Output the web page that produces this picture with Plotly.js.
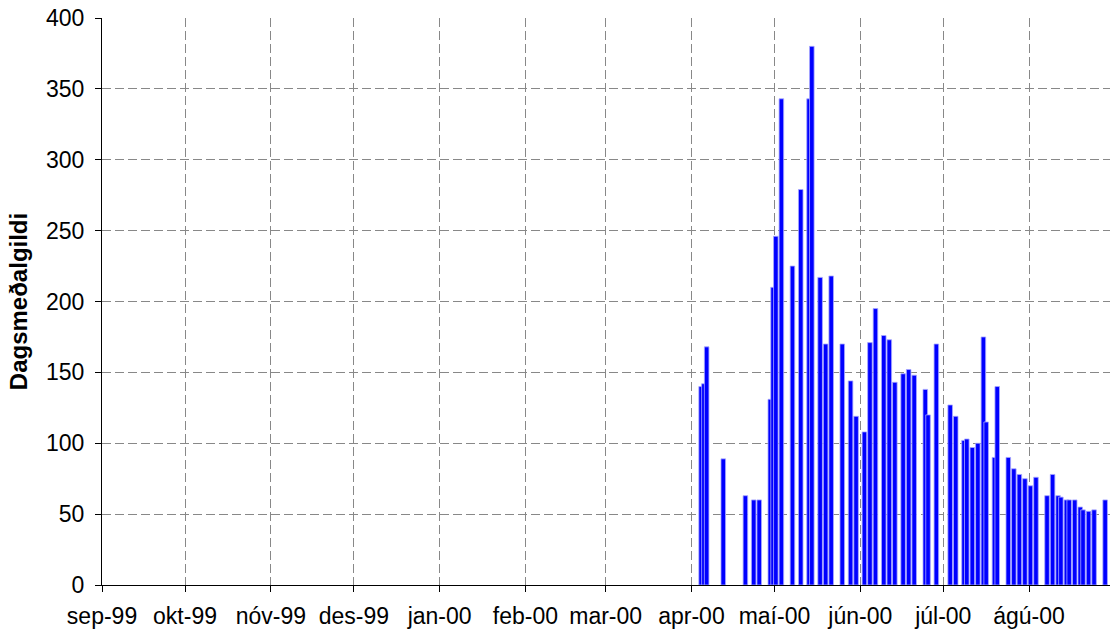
<!DOCTYPE html>
<html>
<head>
<meta charset="utf-8">
<script src="https://cdn.plot.ly/plotly-3.0.1.min.js"></script>
<style>
  html, body { margin: 0; padding: 0; background: #ffffff; }
  #chart { width: 1110px; height: 639px; }
</style>
</head>
<body>
<div id="chart"></div>
<script>
// ---- data ----
const dates = [
  '2000-04-04','2000-04-05','2000-04-06','2000-04-12','2000-04-20','2000-04-23','2000-04-25',
  '2000-04-29','2000-04-30','2000-05-01','2000-05-03','2000-05-07','2000-05-10','2000-05-13',
  '2000-05-14','2000-05-17','2000-05-19','2000-05-21','2000-05-25','2000-05-28','2000-05-30',
  '2000-06-02','2000-06-04','2000-06-06','2000-06-09','2000-06-11','2000-06-13','2000-06-16',
  '2000-06-18','2000-06-20','2000-06-24','2000-06-25','2000-06-28','2000-07-03','2000-07-05',
  '2000-07-08','2000-07-09','2000-07-11','2000-07-13','2000-07-15','2000-07-16','2000-07-19',
  '2000-07-20','2000-07-24','2000-07-26','2000-07-28','2000-07-30','2000-08-01','2000-08-03',
  '2000-08-07','2000-08-09','2000-08-11','2000-08-12','2000-08-14','2000-08-15','2000-08-17',
  '2000-08-19','2000-08-20','2000-08-22','2000-08-24','2000-08-28'
];
const values = [
  140, 142, 168, 89, 63, 60, 60,
  131, 210, 246, 343, 225, 279, 343,
  380, 217, 170, 218, 170, 144, 119,
  108, 171, 195, 176, 173, 143, 149,
  152, 148, 138, 120, 170, 127, 119,
  102, 103, 97, 100, 175, 115, 90,
  140, 90, 82, 78, 75, 70, 76,
  63, 78, 63, 62, 60, 60, 60,
  55, 53, 52, 53, 60
];
const monthStarts = [
  '1999-09-01','1999-10-01','1999-11-01','1999-12-01','2000-01-01','2000-02-01',
  '2000-03-01','2000-04-01','2000-05-01','2000-06-01','2000-07-01','2000-08-01'
];
const monthLabels = [
  'sep-99','okt-99','nóv-99','des-99','jan-00','feb-00',
  'mar-00','apr-00','maí-00','jún-00','júl-00','ágú-00'
];
const yTitle = 'Dagsmeðalgildi';

// ---- chart ----
const DAY = 86400000;
const fontFamily = '"Liberation Sans", Arial, Helvetica, sans-serif';

const trace = {
  type: 'bar',
  x: dates,
  y: values,
  xperiod: DAY,
  xperiodalignment: 'middle',
  width: 1.65 * DAY,
  marker: {
    color: '#0000ff',
    line: { color: '#a8a8ff', width: 0.8 }
  },
  hoverinfo: 'x+y'
};

const layout = {
  width: 1110,
  height: 639,
  margin: { l: 102, r: 0, t: 18, b: 54, pad: 0 },
  paper_bgcolor: '#ffffff',
  plot_bgcolor: '#ffffff',
  showlegend: false,
  bargap: 0,
  font: { family: fontFamily, color: '#000000', size: 23 },
  xaxis: {
    type: 'date',
    range: ['1999-09-01', '2000-08-30 06:00'],
    tickmode: 'array',
    tickvals: monthStarts,
    ticktext: monthLabels,
    ticks: 'outside',
    ticklen: 6,
    tickwidth: 1,
    tickcolor: '#000000',
    ticklabelstandoff: 4,
    tickfont: { family: fontFamily, size: 23, color: '#000000' },
    showline: true,
    linecolor: '#000000',
    linewidth: 1,
    showgrid: true,
    gridcolor: '#888888',
    gridwidth: 1,
    griddash: '9px,4px',
    zeroline: false,
    fixedrange: true
  },
  yaxis: {
    range: [0, 400],
    tick0: 0,
    dtick: 50,
    ticks: 'outside',
    ticklen: 6,
    tickwidth: 1,
    tickcolor: '#000000',
    ticklabelstandoff: 6,
    tickfont: { family: fontFamily, size: 23, color: '#000000' },
    showline: true,
    linecolor: '#000000',
    linewidth: 1,
    showgrid: true,
    gridcolor: '#888888',
    gridwidth: 1,
    griddash: '9px,4px',
    zeroline: false,
    fixedrange: true,
    title: {
      text: yTitle,
      font: { family: fontFamily, size: 24, color: '#000000', weight: 'bold' },
      standoff: 11
    }
  }
};

Plotly.newPlot('chart', [trace], layout, { displayModeBar: false, staticPlot: true });
</script>
</body>
</html>
